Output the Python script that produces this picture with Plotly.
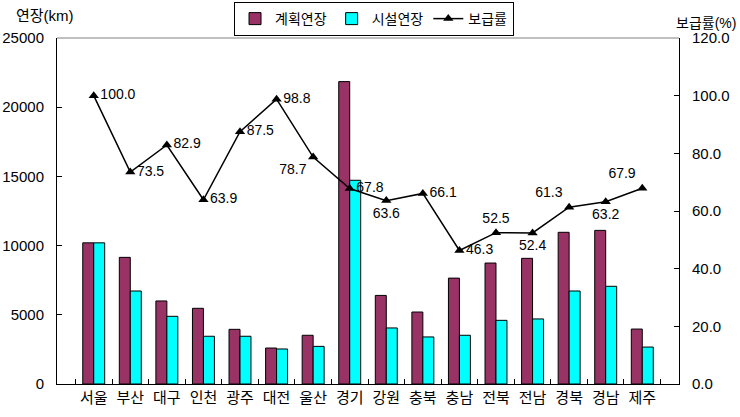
import plotly.graph_objects as go

categories = ["서울", "부산", "대구", "인천", "광주", "대전", "울산", "경기",
              "강원", "충북", "충남", "전북", "전남", "경북", "경남", "제주"]
plan_km = [10200, 9150, 6000, 5470, 3950, 2600, 3520, 21850,
           6400, 5200, 7650, 8740, 9080, 10960, 11100, 3970]
built_km = [10200, 6720, 4890, 3450, 3450, 2530, 2720, 14720,
            4050, 3400, 3520, 4600, 4700, 6720, 7060, 2670]
rate_pct = [100.0, 73.5, 82.9, 63.9, 87.5, 98.8, 78.7, 67.8,
            63.6, 66.1, 46.3, 52.5, 52.4, 61.3, 63.2, 67.9]
label_pos = ["middle right", "middle right", "middle right", "middle right",
             "middle right", "middle right", "bottom left", "middle right",
             "bottom center", "middle right", "middle right", "top center",
             "bottom center", "top left", "bottom center", "top left"]

FONT = "Liberation Sans, Noto Sans CJK KR, sans-serif"

fig = go.Figure()
fig.add_trace(go.Bar(x=categories, y=plan_km, name="계획연장",
                     marker=dict(color="#993366", line=dict(color="black", width=1))))
fig.add_trace(go.Bar(x=categories, y=built_km, name="시설연장",
                     marker=dict(color="#00FFFF", line=dict(color="black", width=1))))
fig.add_trace(go.Scatter(x=categories, y=rate_pct, name="보급률", yaxis="y2",
                         mode="lines+markers+text",
                         text=[f"{v:.1f}" for v in rate_pct],
                         textposition=label_pos,
                         textfont=dict(size=14, color="black", family=FONT),
                         line=dict(color="black", width=1.5),
                         marker=dict(symbol="triangle-up", size=9, color="black")))

fig.update_layout(
    width=740, height=417,
    margin=dict(l=57, r=61, t=38, b=33, autoexpand=False),
    paper_bgcolor="white", plot_bgcolor="white",
    font=dict(family=FONT, size=15, color="black"),
    barmode="group", bargap=0.4, bargroupgap=0,
    showlegend=True,
    legend=dict(orientation="h", x=0.2846, y=1.104, xanchor="left", yanchor="top",
                bordercolor="black", borderwidth=1, bgcolor="white",
                font=dict(size=14), itemwidth=30, tracegroupgap=0),
    xaxis=dict(showline=True, linecolor="black", linewidth=1, automargin=False,
               ticks="inside", ticklen=5, tickcolor="black", tickson="boundaries",
               showgrid=False, tickfont=dict(size=15), tickangle=0),
    yaxis=dict(range=[0, 25000], dtick=5000, tickformat="d", showline=True,
               linecolor="black", automargin=False,
               linewidth=1, ticks="inside", ticklen=5, tickcolor="black",
               showgrid=False, zeroline=False, ticklabelstandoff=9),
    yaxis2=dict(range=[0, 120], dtick=20, tickformat=".1f", overlaying="y",
                side="right", showline=True, linecolor="black", linewidth=1,
                automargin=False,
                ticks="inside", ticklen=5, tickcolor="black", showgrid=False,
                zeroline=False, ticklabelstandoff=9),
    shapes=[dict(type="line", xref="paper", yref="paper", x0=0, x1=1, y0=1, y1=1,
                 line=dict(color="gray", width=1))],
    annotations=[
        dict(text="연장(km)", xref="paper", yref="paper", x=-0.069, y=1.065,
             xanchor="left", yanchor="middle", showarrow=False, font=dict(size=15)),
        dict(text="보급률(%)", xref="paper", yref="paper", x=1.0949, y=1.043,
             xanchor="right", yanchor="middle", showarrow=False, font=dict(size=14)),
    ],
)

fig.write_html("out.html",
               config={"displayModeBar": False},
               post_script="document.body.style.margin='0';document.body.style.overflow='hidden';")
